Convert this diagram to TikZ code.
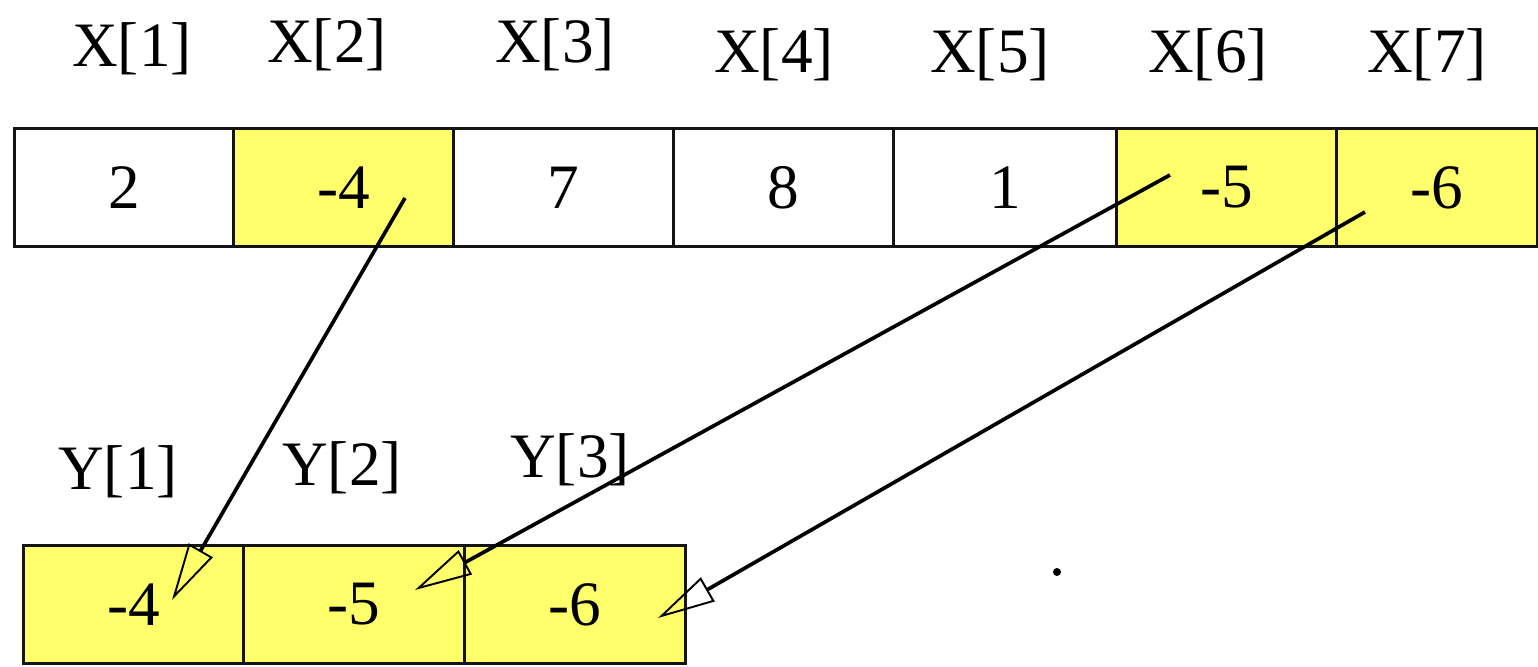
\documentclass[tikz,border=0pt]{standalone}
\usepackage{fontspec}
\setmainfont{Liberation Serif}
\usetikzlibrary{arrows.meta}
\definecolor{cellYellow}{RGB}{255,255,108}
\definecolor{lineDark}{RGB}{20,20,20}

\tikzset{
  cell/.style={draw=lineDark, line width=1.6pt, minimum height=2.36cm,
    minimum width=4.4cm, inner sep=0pt, anchor=south west,
    font=\fontsize{36}{40}\selectfont},
  hit/.style={cell, fill=cellYellow},
  idx/.style={anchor=base, font=\fontsize{36}{40}\selectfont},
  copyarrow/.style={draw=black, line width=2.1pt,
    -{Triangle[open, length=1.15cm, width=0.55cm, line width=1.1pt]}}
}

\begin{document}
\begin{tikzpicture}
\useasboundingbox (0,0) rectangle (30.76, 13.34);

% Source array X
\node[idx] (lx1) at (2.64, 12.00) {X[1]};
\node[idx] (lx2) at (6.54, 12.08) {X[2]};
\node[idx] (lx3) at (11.10, 12.08) {X[3]};
\node[idx] (lx4) at (15.48, 11.88) {X[4]};
\node[idx] (lx5) at (19.80, 11.88) {X[5]};
\node[idx] (lx6) at (24.16, 11.88) {X[6]};
\node[idx] (lx7) at (28.54, 11.88) {X[7]};

\node[cell, minimum width=4.38cm] (x1) at (0.26, 8.38) {2};
\node[hit] (x2) at (4.64, 8.38) {-4};
\node[cell] (x3) at (9.04, 8.38) {7};
\node[cell] (x4) at (13.44, 8.38) {8};
\node[cell, minimum width=4.46cm] (x5) at (17.84, 8.38) {1};
\node[hit] (x6) at (22.30, 8.38) {-5};
\node[hit, minimum width=4.02cm] (x7) at (26.70, 8.38) {-6};

% Result array Y
\node[idx] (ly1) at (2.36, 3.54) {Y[1]};
\node[idx] (ly2) at (6.84, 3.62) {Y[2]};
\node[idx] (ly3) at (11.40, 3.78) {Y[3]};

\node[hit] (y1) at (0.44, 0.04) {-4};
\node[hit, minimum width=4.42cm] (y2) at (4.84, 0.04) {-5};
\node[hit, minimum width=4.42cm] (y3) at (9.26, 0.04) {-6};

\fill[black] (21.14, 1.90) circle (0.08);

% Copy arrows
\coordinate (from2) at (8.10, 9.38);
\coordinate (from6) at (23.40, 9.84);
\coordinate (from7) at (27.30, 9.10);
\coordinate (to1) at (3.44, 1.34);
\coordinate (to2) at (8.30, 1.54);
\coordinate (to3) at (13.16, 0.98);

\draw[copyarrow] (from2) -- (to1);
\draw[copyarrow] (from6) -- (to2);
\draw[copyarrow] (from7) -- (to3);

\end{tikzpicture}
\end{document}
